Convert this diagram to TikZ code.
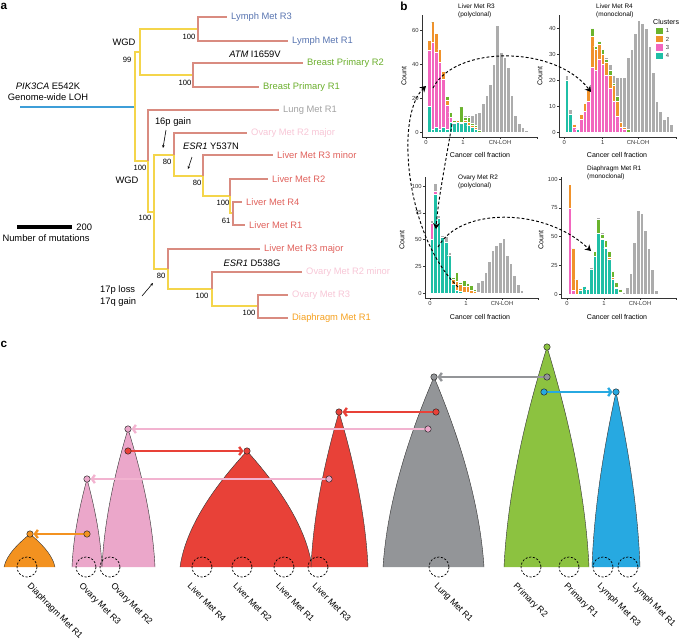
\documentclass[tikz,border=0pt]{standalone}
\usepackage{fontspec}
\setmainfont{Liberation Sans}
\usetikzlibrary{arrows.meta}
\definecolor{treeyel}{HTML}{F4D54B}
\definecolor{treesal}{HTML}{D98B80}
\definecolor{trunkblue}{HTML}{3E9ED8}
\definecolor{lymphblue}{HTML}{5874B0}
\definecolor{breastgreen}{HTML}{6AAE2B}
\definecolor{lunggrey}{HTML}{A2A2A2}
\definecolor{ovarypink}{HTML}{F7C6D6}
\definecolor{liverred}{HTML}{E0605B}
\definecolor{diaorange}{HTML}{F5A01E}
\definecolor{cl1}{HTML}{6AB42D}
\definecolor{cl2}{HTML}{F0922B}
\definecolor{cl3}{HTML}{F266BE}
\definecolor{cl4}{HTML}{1FBFA6}
\definecolor{clnone}{HTML}{ACACAC}
\definecolor{corange}{HTML}{F39220}
\definecolor{cpink}{HTML}{EBA7CA}
\definecolor{cpinkarrow}{HTML}{F2B3D0}
\definecolor{cred}{HTML}{E84138}
\definecolor{cgrey}{HTML}{939598}
\definecolor{cgreen}{HTML}{8CC240}
\definecolor{cblue}{HTML}{27A9E1}

\newcommand{\clonehist}[4]{%
  \foreach \vt/\vp/\vo/\vg/\vk [count=\n from 0] in {#4}{%
    \pgfmathsetmacro{\bx}{#1+3.6*\n-1.8}%
    \pgfmathsetmacro{\ya}{#2-#3*\vt}%
    \pgfmathsetmacro{\yb}{\ya-#3*\vp}%
    \pgfmathsetmacro{\yc}{\yb-#3*\vo}%
    \pgfmathsetmacro{\yd}{\yc-#3*\vg}%
    \pgfmathsetmacro{\ye}{\yd-#3*\vk}%
    \filldraw[histbar, fill=cl4] (\bx,#2) rectangle (\bx+3.6,\ya);
    \filldraw[histbar, fill=cl3] (\bx,\ya) rectangle (\bx+3.6,\yb);
    \filldraw[histbar, fill=cl2] (\bx,\yb) rectangle (\bx+3.6,\yc);
    \filldraw[histbar, fill=cl1] (\bx,\yc) rectangle (\bx+3.6,\yd);
    \filldraw[histbar, fill=clnone] (\bx,\yd) rectangle (\bx+3.6,\ye);
  }%
}

\newcommand{\clonebell}[5]{%
  \pgfmathsetmacro{\bellL}{#3-#1}%
  \pgfmathsetmacro{\bellR}{#2-#3}%
  \pgfmathsetmacro{\bellH}{567-#4}%
  \fill[#5] (#1,567) .. controls (#1+0.1*\bellL,567-0.4*\bellH) and (#3-0.35*\bellL,#4+0.22*\bellH) .. (#3,#4)
    .. controls (#3+0.35*\bellR,#4+0.22*\bellH) and (#2-0.1*\bellR,567-0.4*\bellH) .. (#2,567) -- cycle;
  \draw[line width=0.35pt, black!80] (#1,567) .. controls (#1+0.1*\bellL,567-0.4*\bellH) and (#3-0.35*\bellL,#4+0.22*\bellH) .. (#3,#4)
    .. controls (#3+0.35*\bellR,#4+0.22*\bellH) and (#2-0.1*\bellR,567-0.4*\bellH) .. (#2,567);
}

\begin{document}
\begin{tikzpicture}[x=0.03cm, y=-0.03cm,
    font=\fontsize{8}{9.6}\selectfont,
    yelbr/.style={draw=treeyel, line width=1.2pt},
    salbr/.style={draw=treesal, line width=1.2pt},
    leaf/.style={right, inner sep=3pt},
    boot/.style={font=\fontsize{6.5}{7}\selectfont, inner sep=0pt},
    note/.style={inner sep=0pt},
    pointer/.style={line width=0.5pt, -{Stealth[length=2.5pt,width=2.2pt]}},
    axisln/.style={line width=0.4pt, black!80},
    ticklab/.style={font=\fontsize{5}{6}\selectfont, inner sep=1pt, text=black!80},
    axlab/.style={font=\fontsize{6}{7}\selectfont, inner sep=0pt},
    histtitle/.style={font=\fontsize{5.5}{6.5}\selectfont, align=left, inner sep=0pt, anchor=north west},
    histbar/.style={draw=white, line width=0.15pt},
    migr/.style={black, dash pattern=on 2.4pt off 1.8pt, line width=0.8pt, -{Stealth[length=5pt,width=6pt]}},
    carrow/.style={draw=#1, line width=2pt, -{Straight Barb[length=2.5pt,width=7pt]}, shorten >=3pt},
    cdot/.style={circle, fill=#1, draw=black!85, line width=0.4pt, inner sep=0pt, minimum size=5.5pt},
    sitering/.style={black, dash pattern=on 1.8pt off 1.4pt, line width=0.6pt},
    sitelab/.style={font=\fontsize{7.5}{8}\selectfont, rotate=-45, anchor=north west, inner sep=0pt},
    panel/.style={font=\fontsize{10}{12}\selectfont\bfseries, inner sep=0pt}]
  \useasboundingbox (0,0) rectangle (685,642);

  \node[panel] (pa) at (4,6) {a};
  \coordinate (rootL) at (20,107);
  \coordinate (root) at (135,107);
  \coordinate (nU) at (140,52);
  \coordinate (nL) at (198,29);
  \coordinate (nB) at (193,75);
  \coordinate (n1) at (148,161);
  \coordinate (n2) at (154,212);
  \coordinate (n3) at (174,155);
  \coordinate (n4) at (203,176);
  \coordinate (n5) at (230,196);
  \coordinate (n7) at (233,213);
  \coordinate (n6) at (168,269);
  \coordinate (n8) at (212,289);
  \coordinate (n9) at (258,306);
  \coordinate (lyR3) at (227,17);
  \coordinate (lyR1) at (288,41);
  \coordinate (brR2) at (303,63);
  \coordinate (brR1) at (259,87);
  \coordinate (luR1) at (279,110);
  \coordinate (ovR2a) at (247,133);
  \coordinate (liR3a) at (273,155);
  \coordinate (liR2) at (268,179);
  \coordinate (liR4) at (242,202);
  \coordinate (liR1) at (245,225);
  \coordinate (liR3b) at (260,249);
  \coordinate (ovR2b) at (302,272);
  \coordinate (ovR3) at (288,295);
  \coordinate (diR1) at (288,318);

  \draw[line width=1.3pt, trunkblue] (rootL) -- (root);
  \draw[yelbr] (root) |- (nU);
  \draw[yelbr] (root) |- (n1);
  \draw[yelbr] (nU) |- (nL);
  \draw[yelbr] (nU) |- (nB);
  \draw[yelbr] (n1) |- (n2);
  \draw[yelbr] (n2) |- (n3);
  \draw[yelbr] (n2) |- (n6);
  \draw[yelbr] (n3) |- (n4);
  \draw[yelbr] (n4) |- (n5);
  \draw[yelbr] (n5) |- (n7);
  \draw[yelbr] (n6) |- (n8);
  \draw[yelbr] (n8) |- (n9);
  \draw[salbr] (nL) |- (lyR3) node[leaf, text=lymphblue] (tLyR3) {Lymph Met R3};
  \draw[salbr] (nL) |- (lyR1) node[leaf, text=lymphblue] (tLyR1) {Lymph Met R1};
  \draw[salbr] (nB) |- (brR2) node[leaf, text=breastgreen] (tBrR2) {Breast Primary R2};
  \draw[salbr] (nB) |- (brR1) node[leaf, text=breastgreen] (tBrR1) {Breast Primary R1};
  \draw[salbr] (n1) |- (luR1) node[leaf, text=lunggrey] (tLuR1) {Lung Met R1};
  \draw[salbr] (n3) |- (ovR2a) node[leaf, text=ovarypink] (tOvR2a) {Ovary Met R2 major};
  \draw[salbr] (n4) |- (liR3a) node[leaf, text=liverred] (tLiR3a) {Liver Met R3 minor};
  \draw[salbr] (n5) |- (liR2) node[leaf, text=liverred] (tLiR2) {Liver Met R2};
  \draw[salbr] (n7) |- (liR4) node[leaf, text=liverred] (tLiR4) {Liver Met R4};
  \draw[salbr] (n7) |- (liR1) node[leaf, text=liverred] (tLiR1) {Liver Met R1};
  \draw[salbr] (n6) |- (liR3b) node[leaf, text=liverred] (tLiR3b) {Liver Met R3 major};
  \draw[salbr] (n8) |- (ovR2b) node[leaf, text=ovarypink] (tOvR2b) {Ovary Met R2 minor};
  \draw[salbr] (n9) |- (ovR3) node[leaf, text=ovarypink] (tOvR3) {Ovary Met R3};
  \draw[salbr] (n9) |- (diR1) node[leaf, text=diaorange] (tDiR1) {Diaphragm Met R1};

  \node[note, align=center, font=\fontsize{8}{9.4}\selectfont] (pik) at (48,92) {\textit{PIK3CA} E542K\\Genome-wide LOH};
  \node[note] (wgd1) at (124,42) {WGD};
  \node[boot] (b99) at (127,60) {99};
  \node[boot] (bL) at (189,37) {100};
  \node[boot] (bB) at (185,83) {100};
  \node[note] (atm) at (255,54) {\textit{ATM} I1659V};
  \node[boot] (b1) at (140,168) {100};
  \node[note] (wgd2) at (127,180) {WGD};
  \node[boot] (b2) at (145,218) {100};
  \node[note] (g16) at (173,122) {16p gain};
  \coordinate (g16s) at (166,130);
  \coordinate (g16e) at (163,148);
  \draw[pointer] (g16s) -- (g16e);
  \node[boot] (b3) at (167,162) {80};
  \node[note] (esr1a) at (211,146) {\textit{ESR1} Y537N};
  \coordinate (esrs) at (192,157);
  \coordinate (esre) at (188,169);
  \draw[pointer] (esrs) -- (esre);
  \node[boot] (b4) at (197,183) {80};
  \node[boot] (b5) at (223,203) {100};
  \node[boot] (b7) at (226,221) {61};
  \node[boot] (b6) at (161,276) {80};
  \node[note] (esr1b) at (252,263) {\textit{ESR1} D538G};
  \node[boot] (b8) at (202,296) {100};
  \node[boot] (b9) at (249,313) {100};
  \node[note, align=left, anchor=west, font=\fontsize{8}{10.2}\selectfont] (chr17) at (100,296) {17p loss\\17q gain};
  \coordinate (c17s) at (142,296);
  \coordinate (c17e) at (153,283);
  \draw[pointer] (c17s) -- (c17e);
  \coordinate (sb1) at (17,227);
  \coordinate (sb2) at (72,227);
  \draw[line width=2.6pt] (sb1) -- (sb2) node[right, inner sep=2.5pt] (sbl) {200};
  \node[note] (sbt) at (46,238) {Number of mutations};

  \node[panel] (pb) at (404,6) {b};
  \clonehist{428.8}{132}{1.7}{15/33/6/0/0, 2/51/12/0/0, 3/44/11/0/0, 2/39/8/0/0, 3/28/5/0/0, 2/14/3/2/0, 6/3/0/3/0, 5/0/1/1/0, 6/0/1/0/0, 5/0/1/9/0, 6/0/1/2/1, 4/0/2/3/1, 3/0/1/1/5, 2/0/1/1/7, 0/0/0/1/11, 0/0/0/0/17, 0/0/0/0/22, 0/0/0/0/28, 0/0/0/0/40, 0/0/0/0/63, 0/0/0/0/47, 0/0/0/0/44, 0/0/0/0/38, 0/0/0/0/22, 0/0/0/0/10, 0/0/0/0/5, 0/0/0/0/3, 0/0/0/0/1}
  \draw[axisln] (422,15) -- (422,137) -- (538,137);
  \foreach \c in {0,20,40,60} \draw[axisln] (422,132-1.7*\c) -- (420,132-1.7*\c) node[ticklab, left] (yA\c) {\c};
  \foreach \x/\l [count=\n] in {426/0,463/1,500/CN-LOH,537/{}} \draw[axisln] (\x,137) -- (\x,139) node[ticklab, below] (xA\n) {\l};
  \node[axlab, rotate=90] (cntA) at (404,76) {Count};
  \node[axlab] (ccfA) at (480,155) {Cancer cell fraction};
  \node[histtitle] (ttlA) at (458,4) {Liver Met R3\\(polyclonal)};

  \clonehist{566.7}{132}{2.6}{20/0/0/0/2, 7/0/0/0/2, 0/2/1/0/0, 1/0/0/0/0, 0/5/2/0/0, 0/8/3/0/0, 0/12/4/1/0, 0/25/12/3/0, 0/24/8/1/0, 0/28/6/1/0, 0/26/4/2/0, 0/22/5/1/1, 0/17/5/2/2, 0/12/6/1/3, 0/6/6/2/7, 0/2/2/0/17, 0/1/1/0/19, 0/0/0/1/28, 0/0/0/0/32, 0/0/0/0/38, 0/0/0/0/43, 0/0/0/0/42, 0/0/0/0/40, 0/0/0/0/33, 0/0/0/0/23, 0/0/0/0/12, 0/0/0/0/8, 0/0/0/0/5, 0/0/0/0/6, 0/0/0/0/3}
  \draw[axisln] (559,15) -- (559,137) -- (676,137);
  \foreach \c in {0,10,20,30,40} \draw[axisln] (559,132-2.6*\c) -- (557,132-2.6*\c) node[ticklab, left] (yB\c) {\c};
  \foreach \x/\l [count=\n] in {564.3/0,602.7/1,638/CN-LOH,676/{}} \draw[axisln] (\x,137) -- (\x,139) node[ticklab, below] (xB\n) {\l};
  \node[axlab, rotate=90] (cntB) at (540,76) {Count};
  \node[axlab] (ccfB) at (617,155) {Cancer cell fraction};
  \node[histtitle] (ttlB) at (596,4) {Liver Met R4\\(monoclonal)};
  \node[axlab, anchor=west] (legT) at (653,22) {Clusters};
  \foreach \cc/\yy [count=\n] in {cl1/30.7,cl2/39,cl3/47.3,cl4/55.7} {
    \fill[\cc] (656,\yy-3.2) rectangle (662.5,\yy+3.2);
    \node[ticklab, anchor=west] (leg\n) at (664.5,\yy) {\n};
  }

  \clonehist{431.5}{293}{1.07}{50/15/0/0/3, 92/3/0/0/8, 70/0/0/0/3, 52/0/0/0/2, 48/0/0/0/5, 35/0/0/0/3, 8/0/5/2/0, 3/0/8/9/0, 2/0/6/2/1, 1/0/5/6/1, 1/0/5/3/1, 0/0/3/4/1, 0/0/2/2/1, 0/0/1/0/9, 0/0/0/0/12, 0/0/0/0/20, 0/0/0/0/30, 0/0/0/0/40, 0/0/0/0/45, 0/0/0/0/48, 0/0/0/0/51, 0/0/0/0/35, 0/0/0/0/28, 0/0/0/0/17, 0/0/0/0/8, 0/0/0/0/3, 0/0/0/0/1}
  \draw[axisln] (425,177) -- (425,298) -- (538,298);
  \foreach \c in {0,25,50,75,100} \draw[axisln] (425,293-1.07*\c) -- (423,293-1.07*\c) node[ticklab, left] (yC\c) {\c};
  \foreach \x/\l [count=\n] in {430/0,466/1,502/CN-LOH,538/{}} \draw[axisln] (\x,298) -- (\x,300) node[ticklab, below] (xC\n) {\l};
  \node[axlab, rotate=90] (cntC) at (402,240) {Count};
  \node[axlab] (ccfC) at (480,317) {Cancer cell fraction};
  \node[histtitle] (ttlC) at (458,175) {Ovary Met R2\\(polyclonal)};

  \clonehist{569.5}{294}{1.15}{0/75/21/0/0, 0/3/37/0/0, 0/0/13/0/0, 3/0/2/0/0, 7/0/0/0/0, 4/0/0/0/0, 22/0/0/0/1, 33/0/0/4/1, 53/0/0/12/2, 48/0/1/3/2, 40/0/1/6/1, 30/0/2/5/0, 13/0/2/5/0, 5/0/1/4/0, 1/0/1/2/0, 0/0/0/0/2, 0/0/0/0/6, 0/0/0/0/18, 0/0/0/0/45, 0/0/0/0/73, 0/0/0/0/70, 0/0/0/0/56, 0/0/0/0/40, 0/0/0/0/22, 0/0/0/0/3}
  \draw[axisln] (561,177) -- (561,298) -- (676,298);
  \foreach \c in {0,25,50,75,100} \draw[axisln] (561,294-1.15*\c) -- (559,294-1.15*\c) node[ticklab, left] (yD\c) {\c};
  \foreach \x/\l [count=\n] in {567/0,604/1,640/CN-LOH,676/{}} \draw[axisln] (\x,298) -- (\x,300) node[ticklab, below] (xD\n) {\l};
  \node[axlab, rotate=90] (cntD) at (541,240) {Count};
  \node[axlab] (ccfD) at (617,317) {Cancer cell fraction};
  \node[histtitle] (ttlD) at (587,166) {Diaphragm Met R1\\(monoclonal)};

  \coordinate (mA1) at (452,124);
  \coordinate (mA2) at (436,229);
  \coordinate (mB1) at (438,247);
  \coordinate (mB2) at (591,251);
  \coordinate (mC1) at (458,287);
  \coordinate (mC2) at (426,86);
  \coordinate (mD1) at (433,88);
  \coordinate (mD2) at (591,92);
  \draw[migr] (mA1) .. controls (446,160) and (438,200) .. (mA2);
  \draw[migr] (mB1) .. controls (460,207) and (545,207) .. (mB2);
  \draw[migr] (mC1) .. controls (405,235) and (395,115) .. (mC2);
  \draw[migr] (mD1) .. controls (455,45) and (555,45) .. (mD2);

  \node[panel] (pc) at (4,344) {c};
  \clonebell{4}{55}{30}{534}{corange}
  \clonebell{72}{102}{87}{479}{cpink}
  \clonebell{102}{155}{128}{429}{cpink}
  \clonebell{180}{312}{247}{451}{cred}
  \clonebell{311}{368}{339}{412}{cred}
  \clonebell{383}{484}{434}{377}{cgrey}
  \clonebell{504}{589}{547}{347}{cgreen}
  \clonebell{592}{640}{616}{392}{cblue}
  \foreach \x in {27,86,110,202,242,284,318,439,531,569,603,628} \draw[sitering] (\x,567) circle (10);

  \coordinate (diaTop) at (30,534);
  \coordinate (ovR3Src) at (87,534);
  \coordinate (ovR3Top) at (87,479);
  \coordinate (ovR2Top) at (128,429);
  \coordinate (ovR2Src) at (128,451);
  \coordinate (livTop) at (247,451);
  \coordinate (livR3Top) at (339,412);
  \coordinate (livR3Src) at (329,479);
  \coordinate (lungTop) at (434,377);
  \coordinate (lungRed) at (436,412);
  \coordinate (lungPink) at (428,429);
  \coordinate (priTop) at (547,347);
  \coordinate (priGrey) at (547,377);
  \coordinate (priBlue) at (544,392);
  \coordinate (lymTop) at (616,392);
  \draw[carrow=corange] (ovR3Src) -- (diaTop);
  \draw[carrow=cred] (ovR2Src) -- (livTop);
  \draw[carrow=cpinkarrow] (livR3Src) -- (ovR3Top);
  \draw[carrow=cpinkarrow] (lungPink) -- (ovR2Top);
  \draw[carrow=cred] (lungRed) -- (livR3Top);
  \draw[carrow=cgrey] (priGrey) -- (lungTop);
  \draw[carrow=cblue] (priBlue) -- (lymTop);
  \node[cdot=corange] (dDiaTop) at (diaTop) {};
  \node[cdot=corange] (dOvR3Src) at (ovR3Src) {};
  \node[cdot=cpink] (dOvR3Top) at (ovR3Top) {};
  \node[cdot=cpink] (dOvR2Top) at (ovR2Top) {};
  \node[cdot=cred] (dOvR2Src) at (ovR2Src) {};
  \node[cdot=cred] (dLivTop) at (livTop) {};
  \node[cdot=cred] (dLivR3Top) at (livR3Top) {};
  \node[cdot=cpink] (dLivR3Src) at (livR3Src) {};
  \node[cdot=cgrey] (dLungTop) at (lungTop) {};
  \node[cdot=cred] (dLungRed) at (lungRed) {};
  \node[cdot=cpink] (dLungPink) at (lungPink) {};
  \node[cdot=cgreen] (dPriTop) at (priTop) {};
  \node[cdot=cgrey] (dPriGrey) at (priGrey) {};
  \node[cdot=cblue] (dPriBlue) at (priBlue) {};
  \node[cdot=cblue] (dLymTop) at (lymTop) {};

  \foreach \x/\txt [count=\n] in {31.7/Diaphragm Met R1, 83.3/Ovary Met R3, 115/Ovary Met R2, 191.7/Liver Met R4, 237.3/Liver Met R2, 280/Liver Met R1, 316.7/Liver Met R3, 438.3/Lung Met R1, 517.7/Primary R2, 568.3/Primary R1, 601.7/Lymph Met R3, 636.7/Lymph Met R1}
    \node[sitelab] (site\n) at (\x,582) {\txt};
\end{tikzpicture}
\end{document}
